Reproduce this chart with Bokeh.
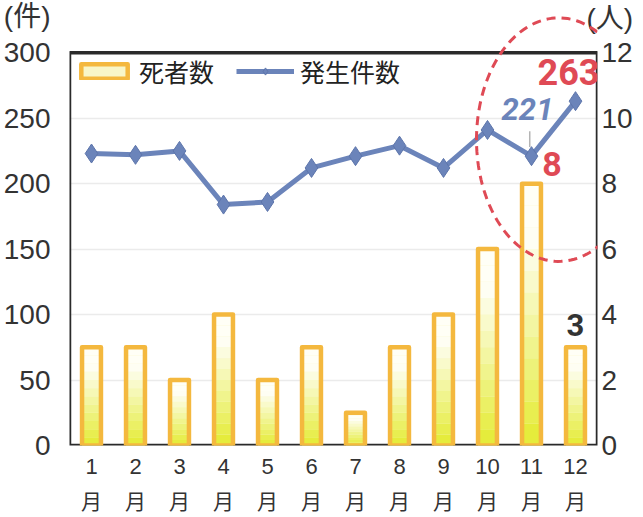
import numpy as np
from bokeh.plotting import figure
from bokeh.models import (Range1d, LinearAxis, FixedTicker, Legend, LegendItem,
                          Label, PolyAnnotation, BoxAnnotation, ColumnDataSource)
from bokeh.embed import file_html
from bokeh.resources import INLINE

# ---- data ----
months = [1, 2, 3, 4, 5, 6, 7, 8, 9, 10, 11, 12]
month_digits = ["1", "2", "3", "4", "5", "6", "7", "8", "9", "10", "11", "12"]
month_unit = "月"
deaths = [3, 3, 2, 4, 2, 3, 1, 3, 4, 6, 8, 3]                    # 死者数 (人)
cases = [223, 222, 225, 184, 186, 212, 221, 229, 212, 241, 221, 263]  # 発生件数 (件)
left_ticks = [0, 50, 100, 150, 200, 250, 300]
right_ticks = [0, 2, 4, 6, 8, 10, 12]
left_max = 300
right_max = 12
series_names = ["死者数", "発生件数"]
unit_left = "(件)"
unit_right = "(人)"

# extra head-room above the plot box (for the unit captions and the ellipse)
ratio = left_max / right_max
y_top = 333
unit_left_pos = 330
unit_right_pos = unit_left_pos / ratio

NUM_FONT = "'Liberation Sans', 'Noto Sans CJK JP', sans-serif"
JP_FONT = "Noto Sans CJK JP"
ORANGE = "#f4b83e"
BLUE = "#6b84ba"
RED = "#df4a55"

p = figure(frame_width=528, frame_height=436, output_backend="svg", toolbar_location=None,
           x_range=Range1d(0.5, 12.5), y_range=Range1d(0, y_top),
           min_border_left=69, min_border_right=0, min_border_top=9,
           min_border_bottom=0)
p.extra_y_ranges = {"p": Range1d(0, y_top / ratio)}
p.background_fill_color = "white"
p.border_fill_color = "white"
p.outline_line_color = None

# grid
p.xgrid.visible = False
p.ygrid.ticker = FixedTicker(ticks=left_ticks)
p.ygrid.grid_line_color = "#ebebeb"
p.ygrid.grid_line_width = 1.5

def style_axis(ax, size, font, standoff):
    ax.axis_line_color = None
    ax.major_tick_line_color = None
    ax.minor_tick_line_color = None
    ax.major_tick_out = 0
    ax.major_tick_in = 0
    ax.minor_tick_out = 0
    ax.minor_tick_in = 0
    ax.major_label_text_font_size = size
    ax.major_label_text_font = font
    ax.major_label_text_color = "#333333"
    ax.major_label_standoff = standoff

# left axis (with unit caption as top label)
ly = p.yaxis[0]
ly.ticker = FixedTicker(ticks=left_ticks + [unit_left_pos])
ly.major_label_overrides = {unit_left_pos: unit_left}
style_axis(ly, "28px", NUM_FONT, 19)

# right axis
ry = LinearAxis(y_range_name="p", ticker=FixedTicker(ticks=right_ticks))
style_axis(ry, "28px", NUM_FONT, 4)
p.add_layout(ry, "right")

# right unit caption, pulled back over the numeric axis
ry2 = LinearAxis(y_range_name="p", ticker=FixedTicker(ticks=[unit_right_pos]))
ry2.major_label_overrides = {unit_right_pos: unit_right}
style_axis(ry2, "28px", NUM_FONT, -49)
p.add_layout(ry2, "right")

# bottom axes: digits, then 月
bx = p.xaxis[0]
bx.ticker = FixedTicker(ticks=months)
bx.major_label_overrides = {m: d for m, d in zip(months, month_digits)}
style_axis(bx, "22px", NUM_FONT, 13)

bx2 = LinearAxis(ticker=FixedTicker(ticks=months))
bx2.major_label_overrides = {m: month_unit for m in months}
style_axis(bx2, "21px", JP_FONT, 8)
p.add_layout(bx2, "below")

# ---- bars with vertical gradient (built from deaths) ----
N = 12
bottom_rgb = np.array([228, 236, 50])
top_rgb = np.array([255, 255, 246])
xs, bots, tops, cols = [], [], [], []
for m, d in zip(months, deaths):
    for k in range(N):
        t = min(1.0, (k + 0.5) / N / 0.8)
        c = bottom_rgb + (top_rgb - bottom_rgb) * t
        xs.append(m)
        bots.append(d * k / N)
        tops.append(d * (k + 1) / N)
        cols.append("#%02x%02x%02x" % tuple(int(v) for v in c))
bar_fill_proxy = p.vbar(x=months, top=deaths, width=0.43, fill_color="#f8f6c8",
                        line_color=None, y_range_name="p")
grad = ColumnDataSource(dict(x=xs, bottom=bots, top=tops, color=cols))
p.vbar(x="x", bottom="bottom", top="top", width=0.43, fill_color="color",
       line_color=None, y_range_name="p", source=grad)
bar_outline = p.vbar(x=months, top=deaths, width=0.43, fill_color=None,
                     line_color=ORANGE, line_width=4.5, line_join="round",
                     y_range_name="p")

# ---- line ----
line_r = p.line(months, cases, line_color=BLUE, line_width=5)
pts_r = p.scatter(months, cases, marker="diamond", size=19, fill_color=BLUE,
                  line_color="#5d75ab", line_width=1)

# plot box (0..300 region)
p.add_layout(BoxAnnotation(left=0.5, right=12.5, bottom=0, top=left_max,
                           fill_alpha=0, line_color="#2a2a2a", line_alpha=1.0,
                           line_width=3.5, level="underlay"))

legend = Legend(items=[LegendItem(label=series_names[0], renderers=[bar_fill_proxy, bar_outline]),
                       LegendItem(label=series_names[1], renderers=[line_r, pts_r])],
                location=(6, 356), orientation="horizontal")
legend.background_fill_alpha = 0
legend.border_line_color = None
legend.label_text_font = JP_FONT
legend.label_text_font_size = "25px"
legend.label_text_color = "#222222"
legend.glyph_width = 58
legend.glyph_height = 18
legend.label_standoff = 6
legend.spacing = 22
legend.margin = 0
legend.padding = 8
p.add_layout(legend)

# ---- annotations ----
ANN_FONT = "Roboto"
i_nov = months.index(11)
i_dec = months.index(12)
p.add_layout(Label(x=months[i_dec], y=cases[i_dec], text=str(cases[i_dec]),
                   x_offset=-7, y_offset=29.5, text_align="center",
                   text_baseline="middle", text_font=ANN_FONT,
                   text_font_style="bold", text_font_size="36px", text_color=RED))
p.add_layout(Label(x=months[i_nov], y=cases[i_nov], text=str(cases[i_nov]),
                   x_offset=-4, y_offset=47.5, text_align="center",
                   text_baseline="middle", text_font=ANN_FONT,
                   text_font_style="bold italic", text_font_size="31px", text_color=BLUE))
p.add_layout(Label(x=months[i_nov], y=deaths[i_nov] * ratio,
                   text=str(deaths[i_nov]),
                   x_offset=20.5, y_offset=19.5, text_align="center",
                   text_baseline="middle", text_font=ANN_FONT,
                   text_font_style="bold", text_font_size="34px", text_color=RED))
p.add_layout(Label(x=months[i_dec], y=deaths[i_dec] * ratio,
                   text=str(deaths[i_dec]),
                   x_offset=0, y_offset=22, text_align="center",
                   text_baseline="middle", text_font=ANN_FONT,
                   text_font_style="bold", text_font_size="31px", text_color="#333333"))

# thin leader from the 221 caption to its point
p.segment(x0=[months[i_nov] - 0.04], y0=[cases[i_nov] + 7],
          x1=[months[i_nov] - 0.04], y1=[cases[i_nov] + 19],
          line_color="#b4b4b4", line_width=1.5)

# dashed ellipse around Oct-Dec
cx, cy = 11.62, 233.6
ax_, ay_ = 1.87, 93.0
th = np.linspace(0, 2 * np.pi, 160)
p.add_layout(PolyAnnotation(xs=list(cx + ax_ * np.cos(th)), ys=list(cy + ay_ * np.sin(th)),
                            fill_alpha=0, line_color=RED, line_alpha=1.0, line_width=3,
                            line_dash="9 6"))

open("out.html", "w").write(file_html(p, INLINE))
